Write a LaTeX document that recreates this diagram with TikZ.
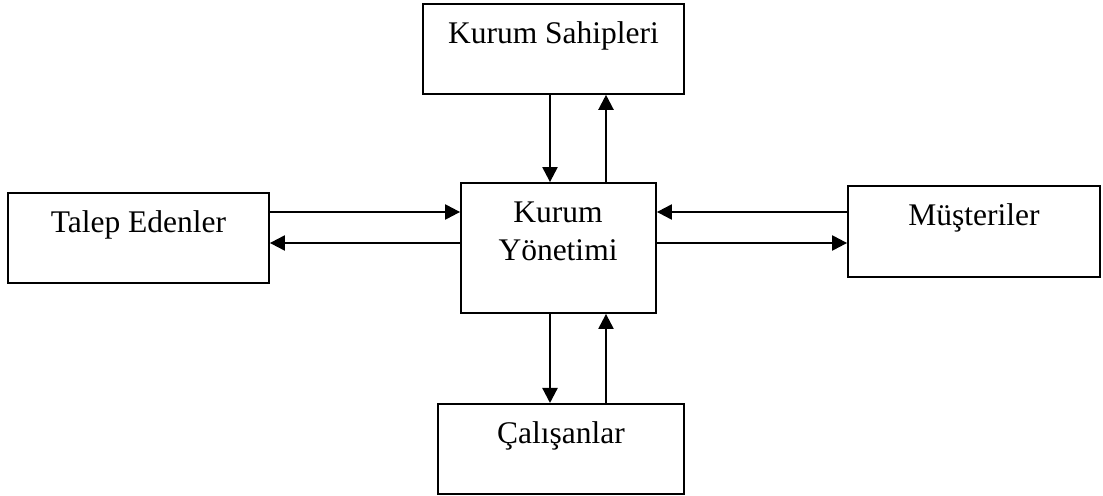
\documentclass[tikz,border=0pt]{standalone}
\usepackage{fontspec}
\setmainfont{Liberation Serif}
\usetikzlibrary{arrows.meta}
\begin{document}
\begin{tikzpicture}[x=1bp,y=-1bp,
  font=\fontsize{31.5bp}{38.3bp}\selectfont,
  box/.style={draw,line width=1.8bp,inner xsep=0pt,inner ysep=0pt,
    text height=40bp,text depth=50bp},
  flow/.style={line width=2.2bp,-{Triangle[length=15bp,width=15bp]}}]
\useasboundingbox (0,0) rectangle (1103,496);

% outer boxes: text sits near the top edge
\node[box,minimum width=261bp] (ks) at (553.5,3) [anchor=north] {Kurum Sahipleri};
\node[box,minimum width=261bp] (te) at (138.5,192) [anchor=north] {Talep Edenler};
\node[box,minimum width=252bp,text depth=51bp] (mu) at (974,185) [anchor=north] {Müşteriler};
\node[box,minimum width=246bp] (ca) at (561,403) [anchor=north] {Çalışanlar};

% central box
\node[draw,line width=1.8bp,minimum width=195bp,minimum height=130bp,inner sep=0pt]
  (ky) at (558.5,248) {};
\node[align=center,anchor=base,inner sep=0pt] (kyt) at (558,260.7) {Kurum\\Yönetimi};

% connector positions
\coordinate (vl) at (550,0);
\coordinate (vr) at (606,0);
\coordinate (hu) at (0,212);
\coordinate (hd) at (0,243);

% vertical flows
\draw[flow] (ks.south -| vl) -- (ky.north -| vl);
\draw[flow] (ky.north -| vr) -- (ks.south -| vr);
\draw[flow] (ky.south -| vl) -- (ca.north -| vl);
\draw[flow] (ca.north -| vr) -- (ky.south -| vr);

% horizontal flows
\draw[flow] (te.east |- hu) -- (ky.west |- hu);
\draw[flow] (ky.west |- hd) -- (te.east |- hd);
\draw[flow] (mu.west |- hu) -- (ky.east |- hu);
\draw[flow] (ky.east |- hd) -- (mu.west |- hd);
\end{tikzpicture}
\end{document}
